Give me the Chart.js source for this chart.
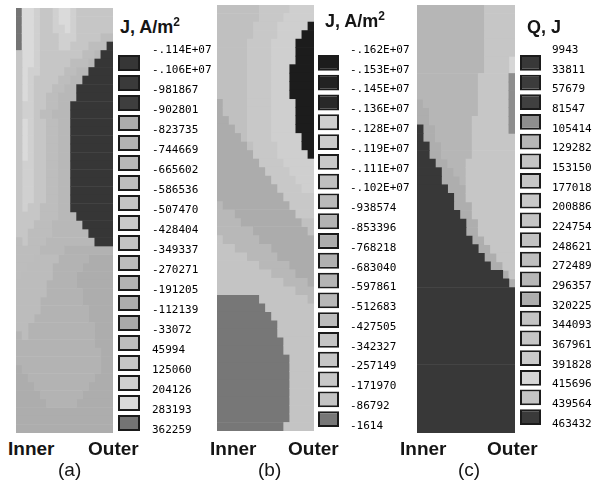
<!DOCTYPE html>
<html>
<head>
<meta charset="utf-8">
<script src="https://cdn.jsdelivr.net/npm/chart.js@4.4.1/dist/chart.umd.min.js"></script>
<style>
html,body{margin:0;padding:0;background:#fff;}
#wrap{position:relative;width:595px;height:484px;overflow:hidden;background:#fff;}
#wrap canvas{position:absolute;}
.t{position:absolute;font-family:"Liberation Sans",Arial,sans-serif;color:#151515;white-space:nowrap;line-height:1;}
.b{font-weight:bold;}
.sup{font-size:12px;position:relative;top:-7px;}
</style>
</head>
<body>
<div id="wrap">
  <canvas id="fieldA"></canvas><canvas id="legA"></canvas>
  <canvas id="fieldB"></canvas><canvas id="legB"></canvas>
  <canvas id="fieldC"></canvas><canvas id="legC"></canvas>

  <div class="t b" style="left:120px;top:18px;font-size:18px;">J, A/m<span class="sup">2</span></div>
  <div class="t b" style="left:325px;top:12px;font-size:18px;">J, A/m<span class="sup">2</span></div>
  <div class="t b" style="left:527px;top:18px;font-size:18px;">Q, J</div>

  <div class="t b" style="left:8px;top:439px;font-size:19px;">Inner</div>
  <div class="t b" style="left:88px;top:439px;font-size:19px;">Outer</div>
  <div class="t" style="left:58px;top:460px;font-size:19px;">(a)</div>

  <div class="t b" style="left:210px;top:439px;font-size:19px;">Inner</div>
  <div class="t b" style="left:288px;top:439px;font-size:19px;">Outer</div>
  <div class="t" style="left:258px;top:460px;font-size:19px;">(b)</div>

  <div class="t b" style="left:400px;top:439px;font-size:19px;">Inner</div>
  <div class="t b" style="left:487px;top:439px;font-size:19px;">Outer</div>
  <div class="t" style="left:458px;top:460px;font-size:19px;">(c)</div>
</div>
<script>
// ---------------- DATA ----------------
// contour level index per cell: '0'..'9','a'..'i' = levels 0..18 (legend order, top to bottom)
const levelCodes = '0123456789abcdefghi';
const gridColumns = 16;

const labelsA = ['-.114E+07','-.106E+07','-981867','-902801','-823735','-744669','-665602','-586536','-507470','-428404','-349337','-270271','-191205','-112139','-33072','45994','125060','204126','283193','362259'];
const labelsB = ['-.162E+07','-.153E+07','-.145E+07','-.136E+07','-.128E+07','-.119E+07','-.111E+07','-.102E+07','-938574','-853396','-768218','-683040','-597861','-512683','-427505','-342327','-257149','-171970','-86792','-1614'];
const labelsC = ['9943','33811','57679','81547','105414','129282','153150','177018','200886','224754','248621','272489','296357','320225','344093','367961','391828','415696','439564','463432'];

const paletteA = ['#363636','#3a3a3a','#3e3e3e','#acacac','#b2b2b2','#b8b8b8','#bebebe','#c4c4c4','#c9c9c9','#c3c3c3','#bcbcbc','#b3b3b3','#adadad','#a9a9a9','#bdbdbd','#c6c6c6','#d0d0d0','#dadada','#747474'];
const paletteB = ['#1c1c1c','#222222','#282828','#cfcfcf','#cbcbcb','#c8c8c8','#c0c0c0','#bababa','#b3b3b3','#acacac','#b0b0b0','#b4b4b4','#b8b8b8','#bcbcbc','#c4c4c4','#c6c6c6','#c8c8c8','#c4c4c4','#777777'];
const paletteC = ['#383838','#3c3c3c','#404040','#8e8e8e','#b6b6b6','#c4c4c4','#c6c6c6','#c8c8c8','#c4c4c4','#c2c2c2','#bebebe','#b6b6b6','#aeaeae','#c4c4c4','#c6c6c6','#cacaca','#d6d6d6','#c4c4c4','#3a3a3a'];

const fieldA = [
'ihhgffghhgffffff','ihhgffghhgffffff','ihhgffgghgffffff','ihhgfffgggffffee','ihhgfffggfffeee0',
'fhhgfffffffee500','fhhgfffffeee5000','fhggffffee550000','fhgffffee5500000','fhgfffee55000000',
'fhgffee555000000','fggffee550000000','fggfee5550000000','fhgffee550000000','fhgffee550000000',
'fhgffee550000000','fhgffee550000000','fhgffee550000000','fggffee550000000','fggffee550000000',
'fggffee550000000','fggffee550000000','fggffee550000000','fgffeee550000000','ffffeee555000000',
'fffeee5555500000','ffeeee5555550000','efeee55555555000','eeee555544444444','eeeaaaabbbbbcccc',
'eeaaaabbbbbccccc','eaaaaabbbbcccccc','aaaaabbbbbcccccc','aaaaabbbbbbccccc','aaaabbbbbbbccccc',
'aaaabbbbbbbbcccc','aaabbbbbbbbbcccc','aabbbbbbbbbbbccc','babbbbbbbbbbbccc','bbbbbbbbbbbbbccc',
'bbbbbbbbbbbbbbcc','bbbbbbbbbbbbbbcc','cbbbbbbbbbbbbbcc','ccbbbbbbbbbbbccc','cccbbbbbbbbbcccc',
'ccccbbbbbbbccccc','cccccbbbbbcccccc','cccccccccccccccc','cccccccccccccccc','cccccccccccccccc'
];
const fieldB = [
'6666666555553333','6666666555533333','6666665555333330','6666665555333300','6666655553333000',
'6666655553333000','6666655553333000','6666655553330000','6666655553330000','6666655553330000',
'6666655553330000','9666655553333000','9666655553333000','9966655553333000','9996655553333000',
'9999655553333300','9999965555333300','9999995555333330','9999999555533333','9999999955553333',
'9999999995555333','9999999999555533','9999999999955555','c999999999995555','ccc9999999999555',
'cccc999999999966','cccccc9999999996','ecccccc999999999','eeecccccc9999999','eeeeeccccc999999',
'eeeeeeeccccc9999','eeeeeeeeecccc999','eeeeeeeeeeecccc9','eeeeeeeeeeeeeccc','iiiiiiieeeeeeeec',
'iiiiiiiieeeeeeee','iiiiiiiiieeeeeee','iiiiiiiiiieeeeee','iiiiiiiiiieeeeee','iiiiiiiiiiieeeee',
'iiiiiiiiiiieeeee','iiiiiiiiiiiieeee','iiiiiiiiiiiieeee','iiiiiiiiiiiieeee','iiiiiiiiiiiieeee',
'iiiiiiiiiiiieeee','iiiiiiiiiiiieeee','iiiiiiiiiiiieeee','iiiiiiiiiiiieeee','iiiiiiiiiiieeeee'
];
const fieldC = [
'bbbbbbbbbbb66666','bbbbbbbbbbb66666','bbbbbbbbbbb66666','bbbbbbbbbbb66666','bbbbbbbbbbb66666',
'bbbbbbbbbbb66666','bbbbbbbbbbb6666g','bbbbbbbbbbb6666g','bbbbbbbbbb666663','bbbbbbbbbb666663',
'bbbbbbbbbb666663','cbbbbbbbbb666663','ccbbbbbbbb666663','ccbbbbbbb6666663','0ccbbbbbb6666663',
'0ccbbbbbb6666666','00ccbbbbb6666666','00ccbbbbb6666666','000ccbbb66666666','0000ccbb66666666',
'0000cccb66666666','00000ccc66666666','000000cc66666666','000000ccc6666666','0000000cc6666666',
'00000000cc666666','00000000cc666666','000000000cc66666','0000000000cc6666','00000000000cc666',
'000000000000cc66','00000000000000c6','000000000000000c','0000000000000000','0000000000000000',
'0000000000000000','0000000000000000','0000000000000000','0000000000000000','0000000000000000',
'0000000000000000','0000000000000000','0000000000000000','0000000000000000','0000000000000000',
'0000000000000000','0000000000000000','0000000000000000','0000000000000000','0000000000000000'
];

// ---------------- DRAWING ----------------
Chart.defaults.font.family = '"Liberation Sans", Arial, sans-serif';

function place(id, left, top, w, h) {
  const c = document.getElementById(id);
  c.width = w; c.height = h;
  c.style.left = left + 'px'; c.style.top = top + 'px';
  c.style.width = w + 'px'; c.style.height = h + 'px';
  return c;
}

function fieldChart(id, rows, palette, left, top, w, h) {
  const canvas = place(id, left, top, w, h);
  const rowLabels = rows.map((_, r) => String(r));
  const runs = palette.map(() => []);
  rows.forEach((row, r) => {
    let start = 0;
    for (let c = 1; c <= row.length; c++) {
      if (c === row.length || row[c] !== row[start]) {
        runs[levelCodes.indexOf(row[start])].push({ y: String(r), x: [start, c] });
        start = c;
      }
    }
  });
  const datasets = [];
  runs.forEach((data, k) => {
    if (data.length) datasets.push({
      data, backgroundColor: palette[k], borderWidth: 0,
      grouped: false, barPercentage: 1, categoryPercentage: 1
    });
  });
  return new Chart(canvas, {
    type: 'bar',
    data: { labels: rowLabels, datasets },
    options: {
      indexAxis: 'y', responsive: false, animation: false, events: [],
      layout: { padding: 0 },
      plugins: { legend: { display: false }, tooltip: { enabled: false } },
      scales: {
        x: { type: 'linear', min: 0, max: gridColumns, display: false },
        y: { type: 'category', display: false }
      }
    }
  });
}

function legendChart(id, labels, palette, left, top, w, h, padTop, padBottom, boxW, gap) {
  const canvas = place(id, left, top, w, h);
  const boxes = palette.map((col, j) => ({ y: j + 0.5, x: [0, 1] }));
  const areaW = boxW + gap;
  return new Chart(canvas, {
    type: 'bar',
    data: { datasets: [{
      data: boxes, backgroundColor: palette, borderColor: '#1b1b1b', borderWidth: 2,
      borderSkipped: false, barPercentage: 0.8, categoryPercentage: 1
    }] },
    options: {
      indexAxis: 'y', responsive: false, animation: false, events: [],
      layout: { padding: { top: padTop, bottom: padBottom, left: 0, right: 0 } },
      plugins: { legend: { display: false }, tooltip: { enabled: false } },
      scales: {
        x: { type: 'linear', min: 0, max: areaW / boxW, display: false },
        y: {
          type: 'linear', min: 0, max: labels.length - 1, reverse: true, position: 'right',
          offset: false,
          grid: { display: false, drawTicks: false, tickLength: 0, offset: false },
          border: { display: false },
          afterFit: (s) => { s.width = w - areaW; },
          ticks: {
            stepSize: 1, autoSkip: false, padding: 0, labelOffset: -3,
            color: '#000', font: { family: '"DejaVu Sans Mono", "Liberation Mono", monospace', size: 11 },
            callback: (v) => labels[v]
          }
        }
      }
    }
  });
}

fieldChart('fieldA', fieldA, paletteA, 16, 8, 97, 425);
fieldChart('fieldB', fieldB, paletteB, 217, 5, 97, 426);
fieldChart('fieldC', fieldC, paletteC, 417, 5, 98, 428);

legendChart('legA', labelsA, paletteA, 118, 40, 98, 400, 13, 7, 22, 12);
legendChart('legB', labelsB, paletteB, 318, 40, 96, 400, 13, 11, 21, 11);
legendChart('legC', labelsC, paletteC, 520, 40, 75, 400, 13, 13, 21, 11);
</script>
</body>
</html>
